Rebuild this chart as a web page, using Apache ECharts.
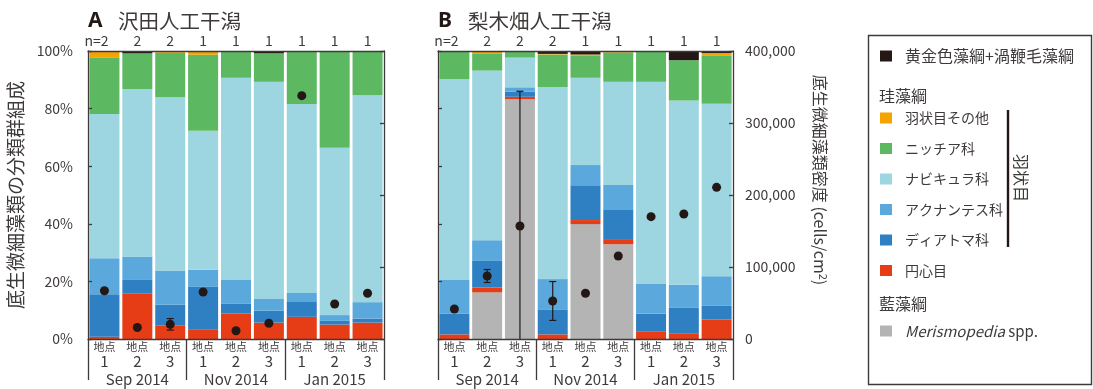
<!DOCTYPE html>
<html>
<head>
<meta charset="utf-8">
<script src="https://cdn.jsdelivr.net/npm/echarts@6/dist/echarts.min.js"></script>
<style>
  html, body { margin: 0; padding: 0; background: #ffffff; }
  #chart { width: 1093px; height: 389px; }
</style>
</head>
<body>
<div id="chart"></div>
<script>
// ---- categories ----
const months = ['Sep 2014', 'Nov 2014', 'Jan 2015'];
const sites = ['1', '2', '3', '1', '2', '3', '1', '2', '3'];
const nSawada = ['n=2', '2', '2', '1', '1', '1', '1', '1', '1'];
const nNashiki = ['n=2', '2', '2', '2', '1', '1', '1', '1', '1'];

// ---- A: 沢田人工干潟, composition (%) ----
const centricA     = [0.8, 15.9, 4.6, 3.4, 8.8, 5.7, 7.7, 5.0, 5.7];
const diatomaA     = [14.7, 4.6, 7.3, 14.7, 3.4, 4.1, 5.4, 1.3, 1.4];
const achnanthesA  = [12.5, 8.1, 11.9, 6.0, 8.3, 4.1, 2.9, 2.0, 5.7];
const naviculaA    = [50.1, 58.2, 60.1, 48.2, 70.2, 75.4, 65.6, 58.1, 71.8];
const nitzschiaA   = [19.6, 12.4, 15.5, 26.4, 9.3, 9.9, 18.4, 33.4, 15.4];
const otherPennA   = [2.3, 0, 0.6, 1.3, 0, 0, 0, 0.2, 0];
const chrysoDinoA  = [0, 0.8, 0, 0, 0, 0.8, 0, 0, 0];
// cell density (cells/cm2) and its error
const densityA     = [67000, 16000, 20400, 65300, 11500, 21800, 338000, 48600, 63500];
const densityErrA  = [null, null, 8000, null, null, null, null, null, null];

// ---- B: 梨木畑人工干潟, composition (%) ----
const merisB       = [0, 16.2, 83.3, 0, 39.9, 32.9, 0, 0, 0];
const centricB     = [1.6, 1.7, 0.8, 1.6, 1.4, 1.5, 2.5, 1.8, 6.8];
const diatomaB     = [7.2, 9.2, 1.8, 8.7, 12.1, 10.4, 6.3, 9.0, 4.7];
const achnanthesB  = [11.7, 7.2, 1.5, 10.5, 7.0, 8.7, 10.3, 8.1, 10.3];
const naviculaB    = [69.7, 58.9, 10.3, 66.7, 30.3, 35.8, 70.2, 63.9, 59.9];
const nitzschiaB   = [9.6, 6.0, 2.3, 11.3, 7.6, 10.2, 10.7, 14.0, 16.6];
const otherPennB   = [0.2, 0.8, 0, 0.2, 0.5, 0.3, 0, 0, 1.0];
const chrysoDinoB  = [0, 0, 0, 1.0, 1.2, 0.2, 0, 3.2, 0.7];
const densityB     = [41700, 87500, 157000, 52800, 63500, 115300, 169900, 173600, 210600];
const densityErrB  = [null, 9000, 187000, 27000, null, null, null, null, null];

// ---- taxon names ----
const N_CHRYSO = '黄金色藻綱+渦鞭毛藻綱';
const N_OTHER = '羽状目その他';
const N_NITZ = 'ニッチア科';
const N_NAVI = 'ナビキュラ科';
const N_ACHN = 'アクナンテス科';
const N_DIAT = 'ディアトマ科';
const N_CENT = '円心目';
const N_MERIS = 'Merismopedia spp.';

// ---- styling ----
const FONT = "'Noto Sans CJK JP', 'Noto Sans', sans-serif";
const INK = '#3e3a39';
const DARK = '#231815';
const COLORS = {};
COLORS[N_CHRYSO] = '#231815';
COLORS[N_OTHER] = '#f4a300';
COLORS[N_NITZ] = '#5db862';
COLORS[N_NAVI] = '#9dd5e0';
COLORS[N_ACHN] = '#5ba9dc';
COLORS[N_DIAT] = '#2f80c3';
COLORS[N_CENT] = '#e63d17';
COLORS[N_MERIS] = '#b4b4b4';

const axisLineStyle = { color: INK, width: 1.3 };

function xAxesFor(g, nLabels) {
  return [
    {
      type: 'category', gridIndex: g, data: sites, position: 'bottom', z: 5,
      axisLine: { show: true, onZero: false, lineStyle: axisLineStyle },
      axisTick: { show: false },
      axisLabel: {
        interval: 0, margin: 1,
        formatter: v => '{a|地点}\n{b|' + v + '}',
        rich: {
          a: { fontSize: 11, lineHeight: 13, color: INK, fontFamily: FONT },
          b: { fontSize: 15, lineHeight: 17, color: INK, fontFamily: FONT }
        }
      }
    },
    {
      type: 'category', gridIndex: g, data: months, position: 'bottom', z: 5,
      axisLine: { show: false, onZero: false },
      axisTick: { show: true, interval: 0, length: 41, lineStyle: axisLineStyle },
      axisLabel: { interval: 0, margin: 33, fontSize: 15, color: INK, fontFamily: FONT }
    },
    {
      type: 'category', gridIndex: g, data: nLabels, position: 'top', z: 5,
      axisLine: { show: true, onZero: false, lineStyle: axisLineStyle },
      axisTick: { show: false },
      axisLabel: {
        interval: 0, margin: 3,
        formatter: v => v.indexOf('n=') === 0
          ? '{t|n=}{t|' + v.slice(2) + '}{s| }'
          : '{t|' + v + '}',
        rich: {
          t: { fontSize: 14, color: INK, fontFamily: FONT },
          s: { fontSize: 14, width: 16 }
        }
      }
    }
  ];
}

function yAxesFor(g, pctLabels, densLabels) {
  return [
    {
      type: 'value', gridIndex: g, position: 'left', min: 0, max: 100, interval: 20, z: 5,
      axisLine: { show: true, lineStyle: axisLineStyle },
      axisTick: { show: true, inside: true, length: 4, lineStyle: axisLineStyle },
      splitLine: { show: false },
      axisLabel: { show: pctLabels, formatter: '{value}%', margin: 15, fontSize: 14, color: INK, fontFamily: FONT }
    },
    {
      type: 'value', gridIndex: g, position: 'right', min: 0, max: 400000, interval: 100000, z: 5,
      axisLine: { show: true, lineStyle: axisLineStyle },
      axisTick: { show: true, inside: true, length: 4, lineStyle: axisLineStyle },
      splitLine: { show: false },
      axisLabel: {
        show: densLabels, margin: 12, fontSize: 14, color: INK, fontFamily: FONT,
        formatter: v => v.toLocaleString('en-US')
      }
    }
  ];
}

function barSeries(name, data, stack, xi, yi) {
  return {
    type: 'bar', name: name, data: data, stack: stack,
    xAxisIndex: xi, yAxisIndex: yi, barWidth: 30,
    itemStyle: { color: COLORS[name] },
    emphasis: { disabled: true },
    z: 2
  };
}

function errorBarRender(params, api) {
  const i = api.value(0);
  const hi = api.coord([i, api.value(1)]);
  const lo = api.coord([i, api.value(2)]);
  const capLow = api.value(3) === 1;
  const w = 3.5;
  const st = { stroke: DARK, lineWidth: 1.2 };
  const children = [
    { type: 'line', shape: { x1: hi[0], y1: hi[1], x2: lo[0], y2: lo[1] }, style: st },
    { type: 'line', shape: { x1: hi[0] - w, y1: hi[1], x2: hi[0] + w, y2: hi[1] }, style: st }
  ];
  if (capLow) {
    children.push({ type: 'line', shape: { x1: lo[0] - w, y1: lo[1], x2: lo[0] + w, y2: lo[1] }, style: st });
  }
  return { type: 'group', children: children };
}

function densitySeries(density, err, xi, yi) {
  const errData = [];
  density.forEach((d, i) => {
    if (err[i] != null) {
      const low = d - err[i];
      errData.push([i, d + err[i], Math.max(0, low), low > 0 ? 1 : 0]);
    }
  });
  return [
    {
      type: 'custom', name: '密度誤差', xAxisIndex: xi, yAxisIndex: yi,
      data: errData, encode: { x: 0, y: [1, 2] },
      renderItem: errorBarRender, z: 3, silent: true
    },
    {
      type: 'scatter', name: '密度', xAxisIndex: xi, yAxisIndex: yi,
      data: density, symbolSize: 9,
      itemStyle: { color: DARK, opacity: 1 }, z: 4
    }
  ];
}

const series = [
  // panel A (grid 0): x axis 0, y axes 0 (%) and 1 (density)
  barSeries(N_CENT, centricA, 'A', 0, 0),
  barSeries(N_DIAT, diatomaA, 'A', 0, 0),
  barSeries(N_ACHN, achnanthesA, 'A', 0, 0),
  barSeries(N_NAVI, naviculaA, 'A', 0, 0),
  barSeries(N_NITZ, nitzschiaA, 'A', 0, 0),
  barSeries(N_OTHER, otherPennA, 'A', 0, 0),
  barSeries(N_CHRYSO, chrysoDinoA, 'A', 0, 0),
  ...densitySeries(densityA, densityErrA, 0, 1),
  // panel B (grid 1): x axis 3, y axes 2 (%) and 3 (density)
  barSeries(N_MERIS, merisB, 'B', 3, 2),
  barSeries(N_CENT, centricB, 'B', 3, 2),
  barSeries(N_DIAT, diatomaB, 'B', 3, 2),
  barSeries(N_ACHN, achnanthesB, 'B', 3, 2),
  barSeries(N_NAVI, naviculaB, 'B', 3, 2),
  barSeries(N_NITZ, nitzschiaB, 'B', 3, 2),
  barSeries(N_OTHER, otherPennB, 'B', 3, 2),
  barSeries(N_CHRYSO, chrysoDinoB, 'B', 3, 2),
  ...densitySeries(densityB, densityErrB, 3, 3)
];

const legendText = { fontSize: 16, lineHeight: 16, color: INK, fontFamily: FONT, padding: [0, 0, 0, 8] };
const legendBase = {
  padding: 0, left: 880, orient: 'vertical', icon: 'rect',
  itemWidth: 12, itemHeight: 11, itemGap: 14.5, textStyle: legendText
};

const titleRich = {
  a: { fontSize: 21, fontWeight: 'bold', color: DARK, width: 30, lineHeight: 24, fontFamily: "'Noto Sans', sans-serif" },
  b: { fontSize: 20.5, fontWeight: 'normal', color: INK, lineHeight: 24, fontFamily: FONT }
};

const option = {
  animation: false,
  backgroundColor: '#ffffff',
  textStyle: { fontFamily: FONT },
  title: [
    {
      left: 88, top: 9, padding: 0,
      text: '{a|A}{b|沢田人工干潟}',
      textStyle: { fontWeight: 'normal', rich: titleRich }
    },
    {
      left: 438, top: 9, padding: 0,
      text: '{a|B}{b|梨木畑人工干潟}',
      textStyle: { fontWeight: 'normal', rich: titleRich }
    }
  ],
  legend: [
    Object.assign({}, legendBase, { top: 48, data: [N_CHRYSO] }),
    Object.assign({}, legendBase, {
      top: 110, data: [N_OTHER, N_NITZ, N_NAVI, N_ACHN, N_DIAT, N_CENT],
      textStyle: Object.assign({}, legendText, { fontSize: 14 })
    }),
    Object.assign({}, legendBase, {
      top: 323, data: [N_MERIS],
      formatter: name => '{i|Merismopedia} spp.',
      textStyle: Object.assign({}, legendText, {
        fontSize: 15,
        rich: { i: { fontStyle: 'italic', fontSize: 15, lineHeight: 16, color: INK, fontFamily: FONT } }
      })
    })
  ],
  grid: [
    { left: 88, top: 51, width: 296, height: 288, containLabel: false, outerBoundsMode: 'none' },
    { left: 438, top: 51, width: 295, height: 288, containLabel: false, outerBoundsMode: 'none' }
  ],
  xAxis: [...xAxesFor(0, nSawada), ...xAxesFor(1, nNashiki)],
  yAxis: [...yAxesFor(0, true, false), ...yAxesFor(1, false, true)],
  series: series,
  graphic: [
    // legend frame
    {
      type: 'rect', left: 866, top: 33, z: 0,
      shape: { x: 0, y: 0, width: 223, height: 349 },
      style: { fill: null, stroke: INK, lineWidth: 1.4 }
    },
    {
      type: 'text', x: 879, y: 96,
      style: { text: '珪藻綱', fontSize: 16, fontFamily: FONT, fill: INK, align: 'left', verticalAlign: 'middle', textAlign: 'left', textVerticalAlign: 'middle' }
    },
    {
      type: 'text', x: 879, y: 304,
      style: { text: '藍藻綱', fontSize: 16, fontFamily: FONT, fill: INK, align: 'left', verticalAlign: 'middle', textAlign: 'left', textVerticalAlign: 'middle' }
    },
    // bracket for 羽状目
    {
      type: 'line', shape: { x1: 1008, y1: 110, x2: 1008, y2: 247 },
      style: { stroke: DARK, lineWidth: 2.4 }
    },
    {
      type: 'text', x: 1021, y: 178, rotation: -Math.PI / 2,
      style: { text: '羽状目', fontSize: 16, fontFamily: FONT, fill: INK, align: 'center', verticalAlign: 'middle', textAlign: 'center', textVerticalAlign: 'middle' }
    },
    // axis titles
    {
      type: 'text', x: 16, y: 195, rotation: Math.PI / 2,
      style: { text: '底生微細藻類の分類群組成', fontSize: 19, fontFamily: FONT, fill: INK, align: 'center', verticalAlign: 'middle', textAlign: 'center', textVerticalAlign: 'middle' }
    },
    {
      type: 'text', x: 820, y: 180, rotation: -Math.PI / 2,
      style: {
        text: '底生微細藻類密度 (cells/cm{s|2})', fontSize: 16, fontFamily: FONT, fill: INK,
        align: 'center', verticalAlign: 'middle', textAlign: 'center', textVerticalAlign: 'middle',
        rich: { s: { fontSize: 11, fontFamily: FONT, fill: INK, verticalAlign: 'top', lineHeight: 18 } }
      }
    }
  ]
};

const chart = echarts.init(document.getElementById('chart'), null, { renderer: 'canvas' });
chart.setOption(option);
</script>
</body>
</html>
